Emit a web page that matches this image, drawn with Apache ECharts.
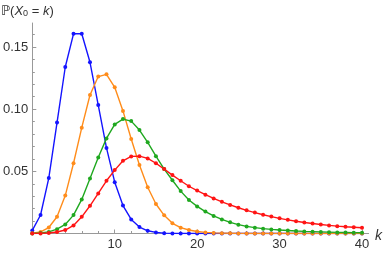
<!DOCTYPE html>
<html><head><meta charset="utf-8">
<script src="https://cdn.jsdelivr.net/npm/echarts@6/dist/echarts.min.js"></script>
<style>html,body{margin:0;padding:0;background:#fff}#c{width:390px;height:254px}</style>
</head><body><div id="c"></div>
<script>
const ks = [0,1,2,3,4,5,6,7,8,9,10,11,12,13,14,15,16,17,18,19,20,21,22,23,24,25,26,27,28,29,30,31,32,33,34,35,36,37,38,39,40];
const blue = [0.0025,0.0149,0.0446,0.0892,0.1339,0.1606,0.1606,0.1377,0.1033,0.0688,0.0413,0.0225,0.0113,0.0052,0.0022,0.0009,0.0003,0.0001,0.00004,0.00001,
  0,0,0,0,0,0,0,0,0,0,0,0,0,0,0,0,0,0,0,0,0];
const orange = [0.0002,0.0013,0.0048,0.0135,0.0305,0.0565,0.0851,0.1114,0.1262,0.1280,0.1176,0.0986,0.0760,0.0551,0.0372,0.0237,0.0146,0.0082,0.0047,0.0028,
  0.0016,0.0009,0.0005,0.0003,0.0002,0.0001,0.0001,0,0,0,0,0,0,0,0,0,0,0,0,0,0];
const green = [0.0001,0.0004,0.0013,0.0035,0.0073,0.0148,0.0274,0.0443,0.0612,0.0765,0.0877,0.0920,0.0904,0.0832,0.0733,0.0622,0.0518,0.0428,0.0341,0.0269,
  0.0218,0.0176,0.0141,0.0113,0.0090,0.0071,0.0057,0.0047,0.0039,0.0033,0.0028,0.0024,0.0020,0.0017,0.0015,0.0013,0.0011,0.0009,0.0008,0.0007,0.0006];
const red = [0.0000,0.0001,0.0004,0.0012,0.0028,0.0065,0.0134,0.0223,0.0322,0.0424,0.0510,0.0585,0.0620,0.0622,0.0604,0.0565,0.0518,0.0470,0.0424,0.0380,
  0.0345,0.0312,0.0282,0.0255,0.0230,0.0207,0.0186,0.0168,0.0151,0.0136,0.0122,0.0110,0.0099,0.0089,0.0080,0.0072,0.0065,0.0059,0.0054,0.0050,0.0046];
const xMajor = [10,20,30,40];
const xMinor = [2,4,6,8,12,14,16,18,22,24,26,28,32,34,36,38];
const yMajor = [0.05,0.10,0.15];
const yMinor = [0.01,0.02,0.03,0.04,0.06,0.07,0.08,0.09,0.11,0.12,0.13,0.14,0.16];
const seriesList = [
  {name:'blue', values: blue, color:'#1414ff'},
  {name:'orange', values: orange, color:'#ff8c1a'},
  {name:'green', values: green, color:'#1fa81f'},
  {name:'red', values: red, color:'#ff1414'}
];
const FONT = 'Liberation Sans, Arial, DejaVu Sans, sans-serif';
const axisGray = '#999999';
const chart = echarts.init(document.getElementById('c'), null, {renderer:'canvas'});
chart.setOption({
  animation: false,
  grid: {left: 30, top: 23, width: 338.6, height: 210.5, containLabel: false},
  xAxis: [
    {type:'value', min:0, max:40.8, position:'bottom',
     axisLine:{show:true, onZero:false, lineStyle:{color:axisGray, width:1}},
     axisTick:{show:true, inside:true, length:4, customValues:xMajor, lineStyle:{color:axisGray}},
     axisLabel:{show:true, customValues:xMajor, margin:4, fontSize:13, color:'#333', fontFamily:FONT},
     splitLine:{show:false}},
    {type:'value', min:0, max:40.8, position:'bottom',
     axisLine:{show:false},
     axisTick:{show:true, inside:true, length:2.5, customValues:xMinor, lineStyle:{color:axisGray}},
     axisLabel:{show:false}, splitLine:{show:false}}
  ],
  yAxis: [
    {type:'value', min:0, max:0.1693, position:'left',
     axisLine:{show:true, onZero:false, lineStyle:{color:axisGray, width:1}},
     axisTick:{show:true, inside:true, length:4, customValues:yMajor, lineStyle:{color:axisGray}},
     axisLabel:{show:true, customValues:yMajor, margin:4, fontSize:13, color:'#333', fontFamily:FONT,
       formatter: v => v.toFixed(2)},
     splitLine:{show:false}},
    {type:'value', min:0, max:0.1693, position:'left',
     axisLine:{show:false},
     axisTick:{show:true, inside:true, length:2.5, customValues:yMinor, lineStyle:{color:axisGray}},
     axisLabel:{show:false}, splitLine:{show:false}}
  ],
  series: seriesList.map(s => ({
    type:'line', name:s.name, xAxisIndex:0, yAxisIndex:0,
    data: ks.map((k,i) => [k, s.values[i]]),
    symbol:'circle', symbolSize:4, showSymbol:true,
    lineStyle:{color:s.color, width:1.4},
    itemStyle:{color:s.color},
    emphasis:{disabled:true}
  })),
  graphic: [
    {type:'text', left:1, top:3,
     style:{text:'{a|ℙ(}{i|X}{s|0}{a| = }{i|k}{a|)}', fill:'#333',
       rich:{
         a:{fontSize:13, fontFamily:FONT, lineHeight:13, verticalAlign:'top', fill:'#333'},
         i:{fontSize:13, fontFamily:FONT, fontStyle:'italic', lineHeight:13, verticalAlign:'top', fill:'#333'},
         s:{fontSize:9, fontFamily:FONT, lineHeight:9, padding:[6,0,0,0], verticalAlign:'bottom', fill:'#333'}
       }}},
    {type:'text', left:375, top:229,
     style:{text:'k', fontSize:14, fontStyle:'italic', fontFamily:FONT, fill:'#333'}}
  ]
});
</script></body></html>
